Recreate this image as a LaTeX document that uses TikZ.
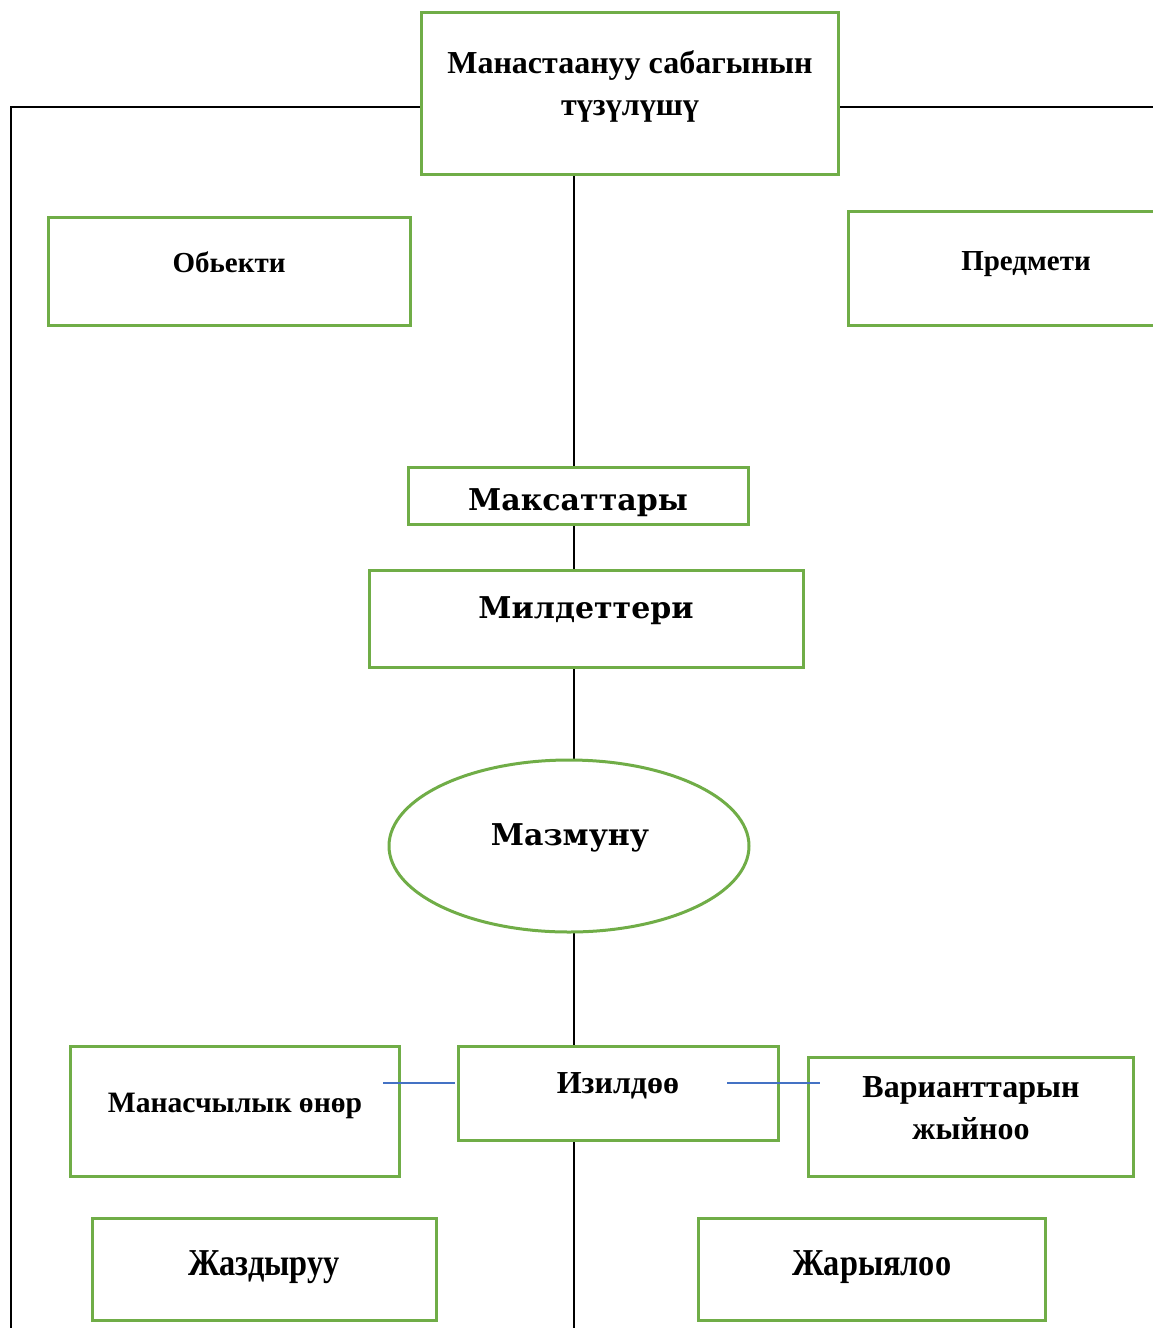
\documentclass[tikz,border=0pt]{standalone}
\usepackage{fontspec}
\usepackage{graphicx}
\setmainfont{Liberation Serif}
\newfontfamily\slabfont{DejaVu Serif}
\usetikzlibrary{shapes.geometric}
\definecolor{boxgreen}{RGB}{112,173,71}
\definecolor{linkblue}{RGB}{68,114,196}
\tikzset{
  frame/.style={draw=boxgreen, line width=1.5pt, fill=white, rectangle, inner sep=0pt},
  oval/.style={draw=boxgreen, line width=1.5pt, fill=white, ellipse, inner sep=0pt},
  txt/.style={anchor=base, inner sep=0pt, font=\bfseries\fontsize{16}{21}\selectfont, align=center},
  slab/.style={anchor=base, inner sep=0pt, font=\slabfont\bfseries\fontsize{15}{18}\selectfont},
  narrow/.style={anchor=base, inner sep=0pt, font=\bfseries\fontsize{19}{22}\selectfont},
  conn/.style={draw=black, line width=1pt},
  thin/.style={draw=linkblue, line width=0.6pt}
}
\begin{document}
\begin{tikzpicture}[x=0.5pt,y=-0.5pt]
\useasboundingbox (0,0) rectangle (1152,1328);
% coordinates for free ends
\coordinate (lt) at (11,107);
\coordinate (lb) at (11,1330);
\coordinate (rt) at (1154,107);
\coordinate (cb) at (574,1330);
% boxes (geometry only)
\node[frame, minimum width=208.5pt, minimum height=81pt] (top) at (629.5,93) {};
% lines behind
\draw[conn] (lb) -- (lt) -- (lt -| top.west);
\draw[conn] (top.east |- rt) -- (rt);
\draw[conn] (top.south -| cb) -- (cb);
% redraw top box on top of lines
\node[frame, minimum width=208.5pt, minimum height=81pt] (top2) at (629.5,93) {};
\node[frame, minimum width=181pt, minimum height=54pt] (obj) at (229,271) {};
\node[frame, minimum width=154pt, minimum height=57pt] (pred) at (1002.5,268) {};
\node[frame, minimum width=170pt, minimum height=28.5pt] (maks) at (578,495.5) {};
\node[frame, minimum width=217pt, minimum height=48.5pt] (mild) at (586,618.5) {};
\node[oval, minimum width=180pt, minimum height=86pt] (mazm) at (569,846) {};
\node[frame, minimum width=164.5pt, minimum height=65pt] (manas) at (234.5,1111) {};
\node[frame, minimum width=160pt, minimum height=47pt] (izil) at (618,1093) {};
\node[frame, minimum width=162.5pt, minimum height=59.5pt] (var) at (970.5,1116.5) {};
\node[frame, minimum width=172pt, minimum height=51pt] (jazd) at (264,1269) {};
\node[frame, minimum width=173.5pt, minimum height=51pt] (jary) at (871.5,1269) {};
% blue link lines
\coordinate (bl1) at (383,1083);
\coordinate (bl2) at (455,1083);
\coordinate (br1) at (727,1083);
\coordinate (br2) at (820,1083);
\draw[thin] (bl1) -- (bl2);
\draw[thin] (br1) -- (br2);
% texts
\node[txt] (ttop) at (630,115) {Манастаануу сабагынын\\түзүлүшү};
\node[txt, font=\bfseries\fontsize{14.5}{20}\selectfont] (tobj) at (229,272) {Обьекти};
\node[txt, font=\bfseries\fontsize{14.5}{20}\selectfont] (tpred) at (1026,270) {Предмети};
\node[slab] (tmaks) at (578,510) {Максаттары};
\node[slab] (tmild) at (586,618) {Милдеттери};
\node[slab] (tmazm) at (570,845) {Мазмуну};
\node[txt, font=\bfseries\fontsize{14.8}{20}\selectfont] (tmanas) at (235,1112) {Манасчылык өнөр};
\node[txt] (tizil) at (618,1093) {Изилдөө};
\node[txt] (tvar) at (971,1139) {Варианттарын\\жыйноо};
\node[narrow] (tjazd) at (264,1275) {\scalebox{0.85}[1]{Жаздыруу}};
\node[narrow] (tjary) at (872,1275) {\scalebox{0.85}[1]{Жарыялоо}};
\end{tikzpicture}
\end{document}
